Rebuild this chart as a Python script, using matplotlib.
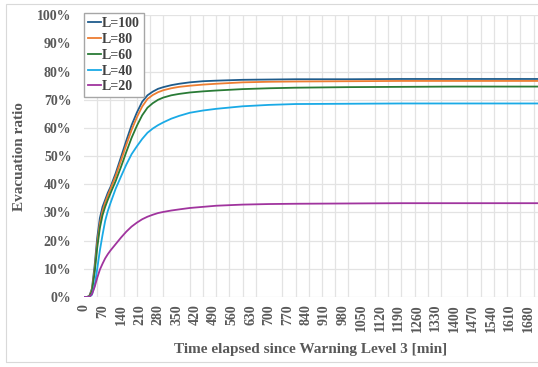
import matplotlib
matplotlib.use("Agg")
import matplotlib.pyplot as plt
from matplotlib.patches import Rectangle
from matplotlib.ticker import PercentFormatter

# time axis [min] shared by all series
t = [0, 10, 20, 30, 40, 50, 60, 70, 80, 90, 100, 120, 140, 160, 180, 200, 220, 240,
     260, 280, 300, 330, 360, 400, 450, 500, 600, 700, 800, 1000, 1200, 1400, 1720]

l100 = [0, 0, 0.003, 0.03, 0.11, 0.21, 0.28, 0.32, 0.345, 0.37, 0.39, 0.44, 0.497, 0.555,
        0.61, 0.655, 0.693, 0.716, 0.729, 0.739, 0.745, 0.752, 0.757, 0.762, 0.766, 0.768,
        0.771, 0.772, 0.773, 0.773, 0.774, 0.774, 0.774]
l80 = [0, 0, 0.002, 0.025, 0.095, 0.19, 0.26, 0.305, 0.335, 0.36, 0.383, 0.43, 0.485, 0.54,
       0.593, 0.638, 0.676, 0.703, 0.717, 0.727, 0.734, 0.741, 0.746, 0.75, 0.754, 0.757,
       0.762, 0.764, 0.765, 0.766, 0.767, 0.767, 0.767]
l60 = [0, 0, 0.002, 0.02, 0.085, 0.175, 0.245, 0.29, 0.32, 0.345, 0.368, 0.412, 0.462, 0.515,
       0.565, 0.608, 0.645, 0.672, 0.688, 0.7, 0.708, 0.716, 0.721, 0.726, 0.73, 0.733,
       0.738, 0.741, 0.743, 0.745, 0.746, 0.747, 0.747]
l40 = [0, 0, 0, 0.008, 0.04, 0.1, 0.165, 0.22, 0.27, 0.305, 0.333, 0.385, 0.428, 0.47,
       0.507, 0.535, 0.561, 0.583, 0.598, 0.61, 0.62, 0.633, 0.643, 0.654, 0.662, 0.668,
       0.677, 0.682, 0.685, 0.686, 0.687, 0.687, 0.687]
l20 = [0, 0, 0, 0.01, 0.035, 0.068, 0.097, 0.118, 0.137, 0.152, 0.165, 0.188, 0.211, 0.232,
       0.25, 0.264, 0.276, 0.285, 0.292, 0.298, 0.302, 0.307, 0.311, 0.316, 0.32, 0.324,
       0.328, 0.33, 0.331, 0.332, 0.333, 0.333, 0.333]

labels = ["L=100", "L=80", "L=60", "L=40", "L=20"]
colors = ["#1F5C8C", "#ED7D31", "#2A7B36", "#1AAAE6", "#A0349E"]

plt.rcParams["font.family"] = ["Liberation Serif", "DejaVu Serif"]
plt.rcParams["font.weight"] = "bold"

fig = plt.figure(figsize=(5.38, 3.67), dpi=100)
ax = fig.add_axes([84 / 538, (367 - 297) / 367, 1 - 84 / 538, (297 - 15.3) / 367])

for ys, lab, c in zip([l100, l80, l60, l40, l20], labels, colors):
    ax.plot(t, ys, color=c, lw=1.3, label=lab)

ax.set_xlim(0, 1717)
ax.set_ylim(0, 1)
ax.set_xticks(range(0, 1681, 70))
ax.set_xticks(range(0, 1717, 50), minor=True)
ax.set_yticks([i / 10 for i in range(11)])
ax.yaxis.set_major_formatter(PercentFormatter(1.0, decimals=0))
ax.tick_params(axis="x", which="both", length=0, pad=5, labelrotation=90,
               labelsize=10, labelcolor="#595959")
ax.tick_params(axis="y", length=0, pad=9, labelsize=10, labelcolor="#595959")
ax.grid(axis="x", which="minor", color="#E3E3E3", lw=0.9)
ax.grid(axis="y", which="major", color="#E3E3E3", lw=0.9)
ax.set_axisbelow(True)
for s in ax.spines.values():
    s.set_visible(False)

ax.set_xlabel("Time elapsed since Warning Level 3 [min]", fontsize=11,
              color="#595959", fontweight="bold", labelpad=8)
ax.set_ylabel("Evacuation ratio", fontsize=11, color="#595959", fontweight="bold",
              labelpad=8)

leg = ax.legend(loc="upper left", bbox_to_anchor=(0, 1.008), fontsize=10,
                handlelength=0.9, handletextpad=0.1, labelspacing=0.2,
                borderpad=0.3, borderaxespad=0, fancybox=False, framealpha=1)
leg.get_frame().set_edgecolor("#A6A6A6")
leg.get_frame().set_linewidth(1.0)
for txt in leg.get_texts():
    txt.set_color("#404040")

fig.patches.append(Rectangle((6 / 538, 5 / 367), 1, 1 - 9 / 367, transform=fig.transFigure,
                             fill=False, edgecolor="#D9D9D9", lw=0.8))

fig.savefig("out.png", dpi=100)
